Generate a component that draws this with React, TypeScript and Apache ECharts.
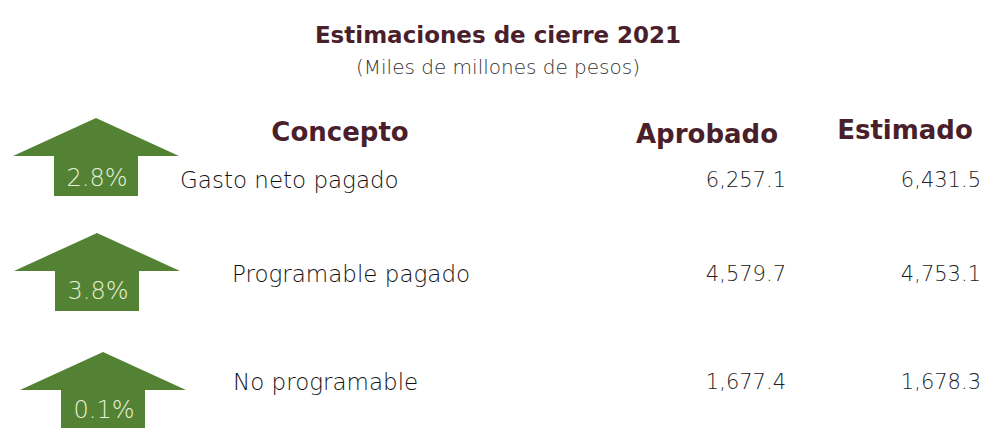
import React, { useEffect, useRef } from "react";
import * as echarts from "echarts";

const titleText = "Estimaciones de cierre 2021";
const subtitleText = "(Miles de millones de pesos)";
const headers = ["Concepto", "Aprobado", "Estimado"];
const concepts = ["Gasto neto pagado", "Programable pagado", "No programable"];
const aprobado = [6257.1, 4579.7, 1677.4];
const estimado = [6431.5, 4753.1, 1678.3];
const growth = [2.8, 3.8, 0.1];

// layout (not data)
const rowY = [180, 274, 382];
const conceptX = [180, 232, 233];
const arrowCx = [96, 97, 103];
const arrowTip = [118, 233, 352];
const labelY = [178, 291, 410];
const headerX = [340, 707, 905];
const headerY = [132, 134, 130];

const FONT = "'DejaVu Sans', sans-serif";
const MAROON = "#4a1f2b";
const GREEN = "#548235";

const fmt = (v: number) =>
  v.toLocaleString("en-US", { minimumFractionDigits: 1, maximumFractionDigits: 1 });

function arrowPoints(cx: number, tip: number) {
  const hw = 83, headH = 38, sw = 42, shaftH = 40;
  return [
    [cx, tip],
    [cx + hw, tip + headH],
    [cx + sw, tip + headH],
    [cx + sw, tip + headH + shaftH],
    [cx - sw, tip + headH + shaftH],
    [cx - sw, tip + headH],
    [cx - hw, tip + headH],
  ];
}

export default function App() {
  const ref = useRef<HTMLDivElement>(null);
  useEffect(() => {
    if (!ref.current) return;
    const chart = echarts.init(ref.current, null, { renderer: "svg" });
    const graphic: any[] = [
      {
        type: "text", x: 498, y: 35,
        style: { text: titleText, fill: MAROON, font: `bold 23px ${FONT}`, textAlign: "center", textVerticalAlign: "middle" },
      },
      {
        type: "text", x: 498, y: 67,
        style: { text: subtitleText, fill: "#333", font: `200 20px ${FONT}`, textAlign: "center", textVerticalAlign: "middle" },
      },
    ];
    headers.forEach((h, i) => {
      graphic.push({
        type: "text", x: headerX[i], y: headerY[i],
        style: { text: h, fill: MAROON, font: `bold 26px ${FONT}`, textAlign: "center", textVerticalAlign: "middle" },
      });
    });
    concepts.forEach((c, i) => {
      graphic.push({
        type: "polygon",
        shape: { points: arrowPoints(arrowCx[i], arrowTip[i]) },
        style: { fill: GREEN },
      });
      graphic.push({
        type: "text", x: arrowCx[i] + 1, y: labelY[i],
        style: { text: growth[i].toFixed(1) + "%", fill: "#e6f0d6", font: `200 24px ${FONT}`, textAlign: "center", textVerticalAlign: "middle" },
      });
      graphic.push({
        type: "text", x: conceptX[i], y: rowY[i],
        style: { text: c, fill: "#111", font: `200 23px ${FONT}`, textAlign: "left", textVerticalAlign: "middle" },
      });
      graphic.push({
        type: "text", x: 786, y: rowY[i],
        style: { text: fmt(aprobado[i]), fill: "#222", font: `200 21px ${FONT}`, textAlign: "right", textVerticalAlign: "middle" },
      });
      graphic.push({
        type: "text", x: 981, y: rowY[i],
        style: { text: fmt(estimado[i]), fill: "#222", font: `200 21px ${FONT}`, textAlign: "right", textVerticalAlign: "middle" },
      });
    });
    chart.setOption({ animation: false, backgroundColor: "#fff", graphic });
    return () => chart.dispose();
  }, []);
  return <div ref={ref} style={{ width: 997, height: 428, position: "absolute", left: 0, top: 0 }} />;
}
